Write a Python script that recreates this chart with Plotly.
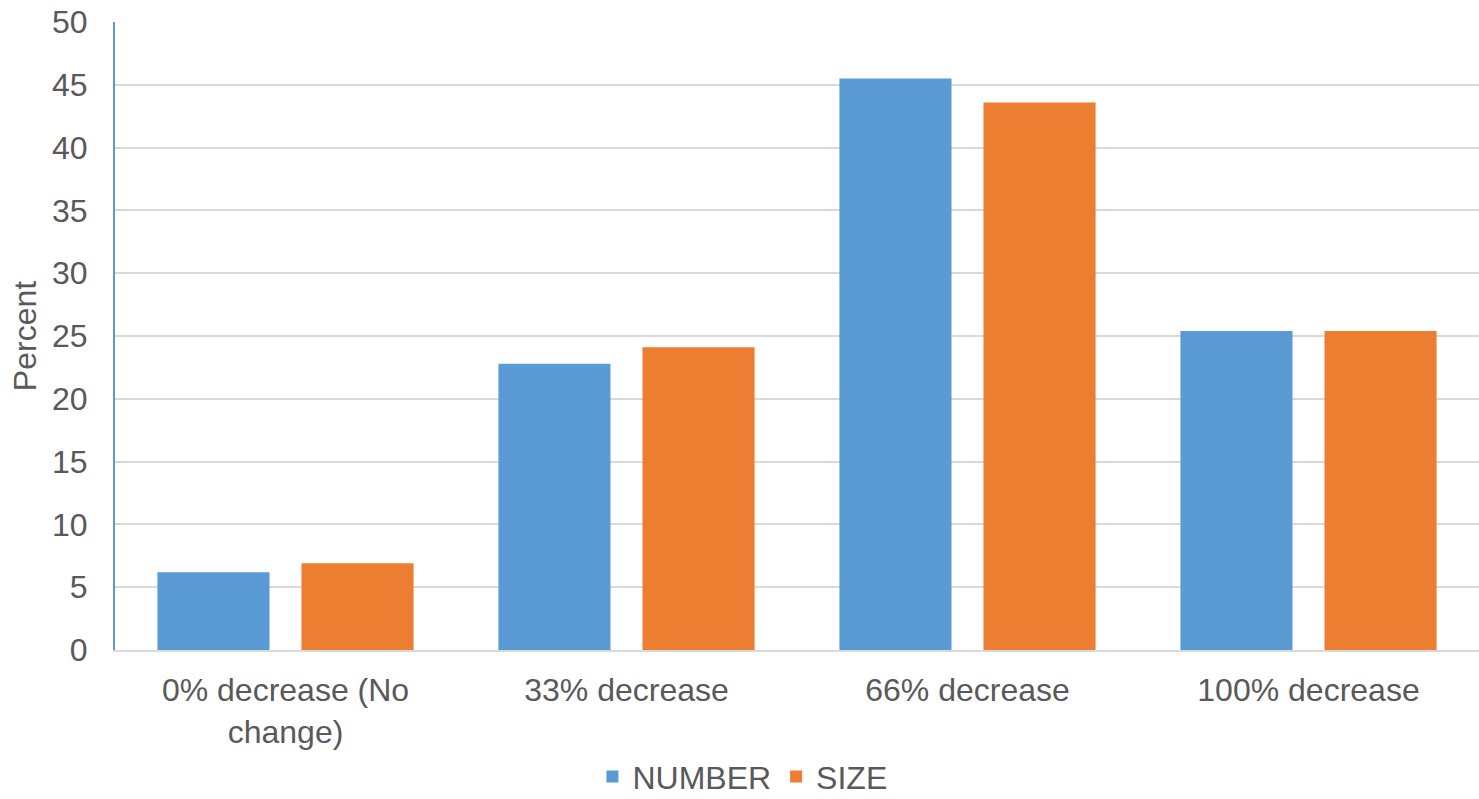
import plotly.graph_objects as go

categories = ["0% decrease (No<br>change)", "33% decrease", "66% decrease", "100% decrease"]
number_pct = [6.2, 22.8, 45.5, 25.4]
size_pct = [6.9, 24.1, 43.6, 25.4]
y_ticks = [0, 5, 10, 15, 20, 25, 30, 35, 40, 45, 50]

TEXT = "#595959"
FONT = "Liberation Sans, Arial, sans-serif"
FS = 32

fig = go.Figure()
fig.add_trace(go.Bar(name="NUMBER", x=categories, y=number_pct, marker_color="#5B9BD5",
                     marker_line_width=0))
fig.add_trace(go.Bar(name="SIZE", x=categories, y=size_pct, marker_color="#ED7D31",
                     marker_line_width=0))

fig.update_layout(
    width=1479, height=799,
    margin=dict(l=115, r=0, t=22, b=149, autoexpand=False),
    paper_bgcolor="white", plot_bgcolor="white",
    barmode="group", bargap=0.155, bargroupgap=0.222,
    font=dict(family=FONT, size=FS, color=TEXT),
    showlegend=True,
    legend=dict(orientation="h", x=0.46, xanchor="center",
                yref="container", y=0.028, yanchor="middle",
                font=dict(size=FS, color=TEXT), itemwidth=30, traceorder="normal"),
)
fig.update_yaxes(
    range=[0, 50], tickvals=y_ticks, ticktext=[str(v) for v in y_ticks],
    showgrid=True, gridcolor="#D9D9D9", gridwidth=2,
    showline=True, linecolor="#5B9BD5", linewidth=2,
    zeroline=False, ticks="", ticklabelstandoff=19, automargin=False,
    title=dict(text="Percent", font=dict(size=FS, color=TEXT), standoff=6),
    tickfont=dict(size=FS, color=TEXT),
)
fig.update_xaxes(
    showline=True, linecolor="#D9D9D9", linewidth=2, automargin=False,
    ticks="", ticklabelstandoff=11, tickfont=dict(size=FS, color=TEXT),
)

fig.write_html("out.html")
